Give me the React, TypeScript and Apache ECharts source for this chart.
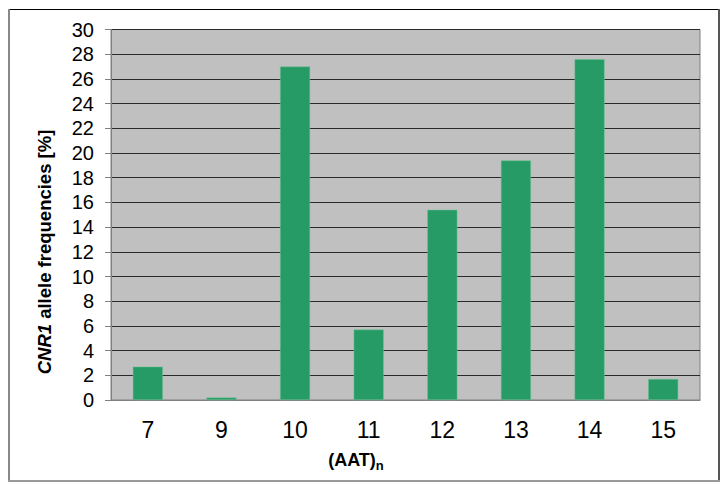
import React, { useEffect, useRef } from 'react';
import * as echarts from 'echarts';

const repeats = ['7', '9', '10', '11', '12', '13', '14', '15'];
const frequencies = [2.7, 0.2, 27.0, 5.7, 15.4, 19.4, 27.6, 1.7];
const yTicks = { min: 0, max: 30, interval: 2 };

const FONT = '"Liberation Sans", Arial, sans-serif';

const App: React.FC = () => {
  const chartRef = useRef<HTMLDivElement>(null);

  useEffect(() => {
    if (!chartRef.current) return;
    const chart = echarts.init(chartRef.current, undefined, { renderer: 'svg' });

    chart.setOption({
      animation: false,
      textStyle: { fontFamily: FONT },
      grid: {
        left: 111,
        top: 29.5,
        right: 27,
        bottom: 89,
        show: true,
        backgroundColor: '#c0c0c0',
        borderColor: '#808080',
        borderWidth: 1
      },
      xAxis: {
        type: 'category',
        data: repeats,
        boundaryGap: true,
        axisLine: { lineStyle: { color: '#808080', width: 1 } },
        axisTick: { alignWithLabel: false, length: 8, lineStyle: { color: '#808080' } },
        axisLabel: { color: '#000', fontSize: 23, margin: 18, fontFamily: FONT },
        splitLine: { show: false }
      },
      yAxis: {
        type: 'value',
        min: yTicks.min,
        max: yTicks.max,
        interval: yTicks.interval,
        axisLine: { show: true, lineStyle: { color: '#808080', width: 1 } },
        axisTick: { show: true, length: 6, lineStyle: { color: '#808080' } },
        axisLabel: { color: '#000', fontSize: 20, margin: 17, fontFamily: FONT },
        splitLine: { show: true, lineStyle: { color: '#2a2a2a', width: 1 } }
      },
      series: [
        {
          type: 'bar',
          data: frequencies,
          barWidth: 30,
          itemStyle: { color: '#279b65', borderColor: '#6cc293', borderWidth: 0.5 }
        }
      ],
      graphic: [
        { type: 'line', shape: { x1: 8, y1: 9.5, x2: 720, y2: 9.5 }, style: { stroke: '#000', lineWidth: 1 } },
        { type: 'line', shape: { x1: 9, y1: 9, x2: 9, y2: 482 }, style: { stroke: '#888', lineWidth: 2 } },
        { type: 'line', shape: { x1: 719, y1: 9, x2: 719, y2: 482 }, style: { stroke: '#555', lineWidth: 2 } },
        { type: 'line', shape: { x1: 8, y1: 481, x2: 720, y2: 481 }, style: { stroke: '#999', lineWidth: 2 } },
        {
          type: 'text',
          x: 44,
          y: 252,
          rotation: Math.PI / 2,
          style: {
            text: '{i|CNR1} allele frequencies [%]',
            fontFamily: FONT,
            fontSize: 18.5,
            fontWeight: 'bold',
            fill: '#000',
            align: 'center',
            verticalAlign: 'middle',
            rich: {
              i: { fontFamily: FONT, fontSize: 18.5, fontWeight: 'bold', fontStyle: 'italic', fill: '#000' }
            }
          }
        },
        {
          type: 'text',
          x: 356,
          y: 459,
          style: {
            text: '{m|(AAT)}{s|n}',
            fontFamily: FONT,
            align: 'center',
            verticalAlign: 'middle',
            rich: {
              m: { fontFamily: FONT, fontSize: 18, fontWeight: 'bold', fill: '#000', lineHeight: 20, verticalAlign: 'bottom' },
              s: { fontFamily: FONT, fontSize: 13, fontWeight: 'bold', fill: '#000', lineHeight: 20, verticalAlign: 'bottom', padding: [0, 0, -3, 0] }
            }
          }
        }
      ]
    });

    return () => {
      chart.dispose();
    };
  }, []);

  return (
    <div
      ref={chartRef}
      style={{ position: 'absolute', left: 0, top: 0, width: 727, height: 489, background: '#fff' }}
    />
  );
};

export default App;
